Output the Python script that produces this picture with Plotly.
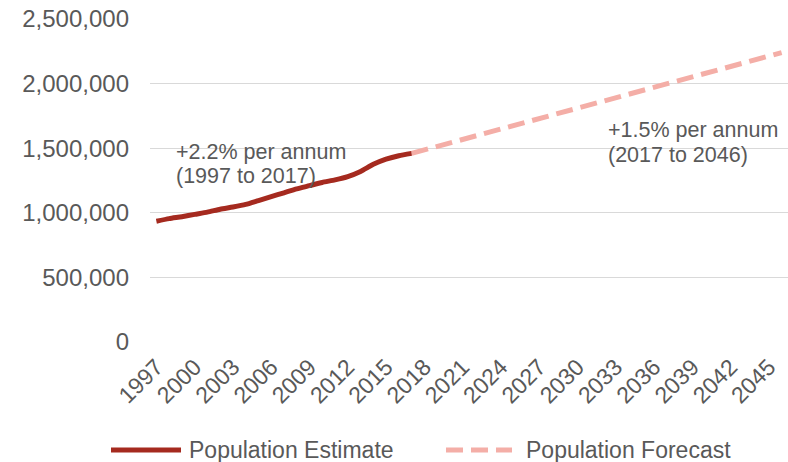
import plotly.graph_objects as go

# Annual population estimates (1997-2017)
estimate_years = list(range(1997, 2018))
estimate_values = [
    935000, 955000, 970000, 988000, 1005000, 1028000, 1045000, 1065000,
    1095000, 1125000, 1155000, 1185000, 1210000, 1235000, 1255000, 1280000,
    1320000, 1375000, 1415000, 1442000, 1460000,
]

# Population forecast (2017-2046)
forecast_years = list(range(2017, 2047))
forecast_values = [
    1460000, 1487000, 1514000, 1541000, 1568000, 1594000, 1621000, 1648000,
    1675000, 1702000, 1729000, 1756000, 1783000, 1810000, 1837000, 1863000,
    1890000, 1917000, 1944000, 1971000, 1998000, 2025000, 2052000, 2079000,
    2106000, 2132000, 2159000, 2186000, 2213000, 2240000,
]

tick_years = list(range(1997, 2046, 3))
y_ticks = [0, 500000, 1000000, 1500000, 2000000, 2500000]

series_names = ["Population Estimate", "Population Forecast"]
growth_notes = [
    ["+2.2% per annum", "(1997 to 2017)"],
    ["+1.5% per annum", "(2017 to 2046)"],
]

W, H = 788, 462
L, R, T, B = 150, 0, 19, 120
EST_COLOR = "#A52A1F"
FC_COLOR = "#F4AEA7"
TXT = "#595959"
FONT = "Liberation Sans, Arial, sans-serif"


def px_x(px):
    return (px - L) / (W - L - R)


def px_y(py):
    return (H - B - py) / (H - T - B)


fig = go.Figure()
fig.add_trace(go.Scatter(
    x=forecast_years, y=forecast_values, mode="lines", name=series_names[1],
    line=dict(color=FC_COLOR, width=5, dash="17px,8px"), showlegend=False,
))
fig.add_trace(go.Scatter(
    x=estimate_years, y=estimate_values, mode="lines", name=series_names[0],
    line=dict(color=EST_COLOR, width=5, shape="spline", smoothing=0.6),
    showlegend=False,
))

annotations = []
note_pos = [(174, [152, 176]), (606, [130, 155])]
for (x0, ys), lines in zip(note_pos, growth_notes):
    for yy, text in zip(ys, lines):
        annotations.append(dict(
            text=text, xref="paper", yref="paper", x=px_x(x0), y=px_y(yy),
            xanchor="left", yanchor="middle", showarrow=False,
            font=dict(family=FONT, size=21.5, color=TXT),
        ))

# Legend drawn below the axis
leg_y = 450
shapes = [
    dict(type="line", xref="paper", yref="paper",
         x0=px_x(111), x1=px_x(181), y0=px_y(leg_y), y1=px_y(leg_y),
         line=dict(color=EST_COLOR, width=5)),
    dict(type="line", xref="paper", yref="paper",
         x0=px_x(446), x1=px_x(512), y0=px_y(leg_y), y1=px_y(leg_y),
         line=dict(color=FC_COLOR, width=5, dash="17px,8px")),
]
for x0, name in [(187, series_names[0]), (524, series_names[1])]:
    annotations.append(dict(
        text=name, xref="paper", yref="paper", x=px_x(x0), y=px_y(leg_y),
        xanchor="left", yanchor="middle", showarrow=False,
        font=dict(family=FONT, size=23, color=TXT),
    ))

fig.update_layout(
    width=W, height=H,
    margin=dict(l=L, r=R, t=T, b=B),
    plot_bgcolor="white", paper_bgcolor="white",
    font=dict(family=FONT, color=TXT),
    annotations=annotations, shapes=shapes,
    xaxis=dict(
        range=[1996.5, 2046.5], tickmode="array", tickvals=tick_years,
        ticktext=[str(y) for y in tick_years], tickangle=-45,
        tickfont=dict(size=23, color=TXT), showgrid=False, zeroline=False,
        showline=False, ticks="", ticklabelstandoff=6,
    ),
    yaxis=dict(
        range=[0, 2500000], tickmode="array", tickvals=y_ticks,
        ticktext=[f"{v:,}" for v in y_ticks],
        tickfont=dict(size=24, color=TXT), showgrid=True,
        gridcolor="#D9D9D9", gridwidth=1.3, zeroline=False, showline=False,
        ticks="", ticklabelstandoff=20,
    ),
)

fig.write_html("out.html")
